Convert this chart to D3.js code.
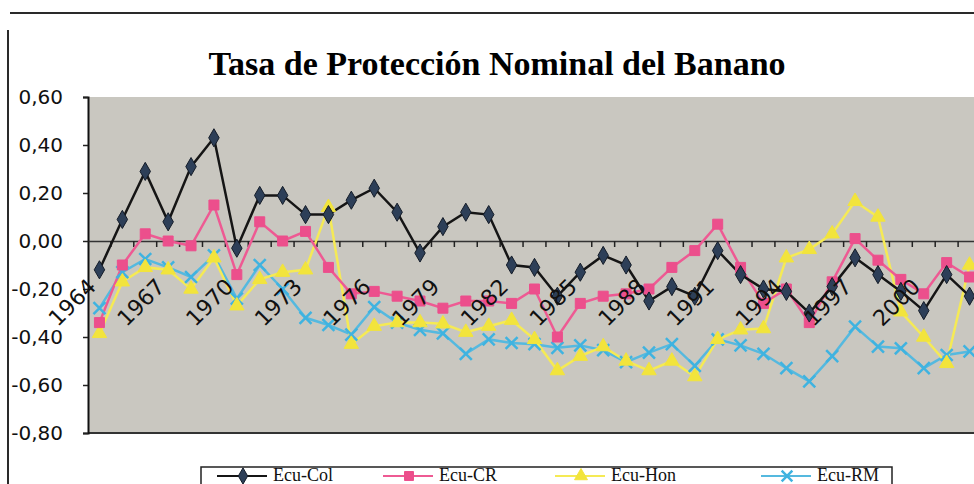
<!DOCTYPE html>
<html>
<head>
<meta charset="utf-8">
<script src="https://cdn.jsdelivr.net/npm/d3@7"></script>
<style>
	html, body { margin: 0; padding: 0; background: #ffffff; overflow: hidden; }
</style>
</head>
<body>
<div id="chart"></div>
<script>
// Categories (years) and the four series
const years = [1964, 1965, 1966, 1967, 1968, 1969, 1970, 1971, 1972, 1973,
	1974, 1975, 1976, 1977, 1978, 1979, 1980, 1981, 1982, 1983,
	1984, 1985, 1986, 1987, 1988, 1989, 1990, 1991, 1992, 1993,
	1994, 1995, 1996, 1997, 1998, 1999, 2000, 2001, 2002];

const ecuCol = [-0.12, 0.09, 0.29, 0.08, 0.31, 0.43, -0.03, 0.19, 0.19, 0.11,
	0.11, 0.17, 0.22, 0.12, -0.05, 0.06, 0.12, 0.11, -0.10, -0.11,
	-0.23, -0.13, -0.06, -0.10, -0.25, -0.19, -0.23, -0.04, -0.14, -0.20,
	-0.21, -0.30, -0.19, -0.07, -0.14, -0.21, -0.29, -0.14, -0.23];

const ecuCR = [-0.34, -0.10, 0.03, 0.00, -0.02, 0.15, -0.14, 0.08, 0.00, 0.04,
	-0.11, -0.22, -0.21, -0.23, -0.25, -0.28, -0.25, -0.25, -0.26, -0.20,
	-0.40, -0.26, -0.23, -0.22, -0.20, -0.11, -0.04, 0.07, -0.11, -0.26,
	-0.20, -0.34, -0.17, 0.01, -0.08, -0.16, -0.22, -0.09, -0.15];

const ecuHon = [-0.385, -0.17, -0.11, -0.12, -0.20, -0.07, -0.27, -0.16, -0.13, -0.12,
	0.14, -0.43, -0.355, -0.34, -0.34, -0.345, -0.38, -0.355, -0.33, -0.41,
	-0.54, -0.48, -0.44, -0.50, -0.54, -0.50, -0.565, -0.41, -0.37, -0.365,
	-0.07, -0.035, 0.03, 0.165, 0.10, -0.295, -0.40, -0.51, -0.10];

const ecuRM = [-0.28, -0.13, -0.075, -0.11, -0.15, -0.06, -0.24, -0.10, -0.20, -0.32,
	-0.35, -0.39, -0.275, -0.34, -0.37, -0.385, -0.47, -0.41, -0.425, -0.43,
	-0.445, -0.435, -0.455, -0.505, -0.465, -0.43, -0.52, -0.41, -0.435, -0.47,
	-0.53, -0.585, -0.48, -0.357, -0.44, -0.447, -0.53, -0.475, -0.46];

const yTicks = [0.6, 0.4, 0.2, 0, -0.2, -0.4, -0.6, -0.8];
const labelYears = [1964, 1967, 1970, 1973, 1976, 1979, 1982, 1985, 1988, 1991, 1994, 1997, 2000];

const seriesNames = ["Ecu-Col", "Ecu-CR", "Ecu-Hon", "Ecu-RM"];

function drawChart() {
	const width = 974, height = 484;
	const plot = { left: 88, right: 981, top: 97, bottom: 433 };

	const svg = d3.select("#chart")
		.append("svg")
		.attr("width", width)
		.attr("height", height)
		.style("display", "block");

	// Scan border lines of the original figure
	svg.append("line")
		.attr("x1", 10).attr("x2", width).attr("y1", 13).attr("y2", 13)
		.attr("stroke", "#2a2a2a").attr("stroke-width", 2);
	svg.append("line")
		.attr("x1", 8).attr("x2", 8).attr("y1", 30).attr("y2", height)
		.attr("stroke", "#2a2a2a").attr("stroke-width", 2);

	// Title
	svg.append("text")
		.attr("x", 497)
		.attr("y", 75)
		.attr("text-anchor", "middle")
		.style("font-family", "'Liberation Serif', 'Times New Roman', serif")
		.style("font-weight", "bold")
		.style("font-size", "34px")
		.text("Tasa de Protección Nominal del Banano");

	// Scales
	const x = d3.scaleBand()
		.domain(years)
		.range([plot.left, plot.right]);
	const cx = (d) => x(d) + x.bandwidth() / 2;

	const y = d3.scaleLinear()
		.domain([-0.8, 0.6])
		.range([plot.bottom, plot.top]);

	// Plot area
	svg.append("rect")
		.attr("x", plot.left)
		.attr("y", plot.top)
		.attr("width", plot.right - plot.left)
		.attr("height", plot.bottom - plot.top)
		.attr("fill", "#c9c7c0");
	svg.append("line")
		.attr("x1", plot.left).attr("x2", width)
		.attr("y1", plot.bottom).attr("y2", plot.bottom)
		.attr("stroke", "#333").attr("stroke-width", 2);

	// Y axis
	const yAxis = svg.append("g")
		.attr("transform", `translate(${plot.left},0)`)
		.call(d3.axisLeft(y)
			.tickValues(yTicks)
			.tickSize(5)
			.tickPadding(20)
			.tickFormat((d) => d3.format(".2f")(d).replace(".", ",").replace("−", "-")));
	yAxis.select(".domain").attr("stroke", "#111").attr("stroke-width", 2);
	yAxis.selectAll(".tick line").attr("stroke", "#222").attr("stroke-width", 1.5);
	yAxis.selectAll("text")
		.attr("fill", "#111")
		.style("font-family", "'DejaVu Sans', sans-serif")
		.style("font-size", "20px");

	// Category axis across the zero line
	const xAxis = svg.append("g")
		.attr("transform", `translate(0,${y(0)})`)
		.call(d3.axisBottom(x).tickSize(0).tickFormat(""));
	xAxis.select(".domain").attr("stroke", "#333").attr("stroke-width", 1.5);
	xAxis.selectAll(".tick").remove();

	// Tick marks between categories
	svg.append("g")
		.selectAll("line")
		.data(years.slice(1))
		.enter()
		.append("line")
		.attr("x1", (d) => x(d)).attr("x2", (d) => x(d))
		.attr("y1", y(0)).attr("y2", y(0) + 6)
		.attr("stroke", "#222").attr("stroke-width", 1.5);

	// Series
	const series = [
		{ name: seriesNames[0], values: ecuCol, line: "#151515", fill: "#2d3f58", stroke: "#141c28", symbol: d3.symbolDiamond, size: 95 },
		{ name: seriesNames[1], values: ecuCR, line: "#ee5a93", fill: "#ec4f8c", stroke: "#ec4f8c", symbol: d3.symbolSquare, size: 100 },
		{ name: seriesNames[2], values: ecuHon, line: "#f5ea55", fill: "#f2e43c", stroke: "#f2e43c", symbol: d3.symbolTriangle, size: 90 },
		{ name: seriesNames[3], values: ecuRM, line: "#55b9df", fill: "none", stroke: "#3fb3e0", symbol: d3.symbolX, size: 95 }
	];

	const line = d3.line()
		.x((d, i) => cx(years[i]))
		.y((d) => y(d));

	const gSeries = svg.append("g");
	series.slice().reverse().forEach((s) => {
		gSeries.append("path")
			.datum(s.values)
			.attr("fill", "none")
			.attr("stroke", s.line)
			.attr("stroke-width", 2.5)
			.attr("d", line);
	});
	series.slice().reverse().forEach((s) => {
		gSeries.selectAll(null)
			.data(s.values)
			.enter()
			.append("path")
			.attr("transform", (d, i) => `translate(${cx(years[i])},${y(d)})`)
			.attr("d", d3.symbol().type(s.symbol).size(s.size))
			.attr("fill", s.fill)
			.attr("stroke", s.stroke)
			.attr("stroke-width", s.fill === "none" ? 2.5 : 1);
	});

	// Rotated year labels
	svg.append("g")
		.selectAll("text")
		.data(labelYears)
		.enter()
		.append("text")
		.attr("transform", (d) => `translate(${cx(d) - 2},${y(0) + 47}) rotate(-45)`)
		.attr("text-anchor", "end")
		.attr("fill", "#111")
		.style("font-family", "'DejaVu Sans', sans-serif")
		.style("font-size", "22px")
		.text((d) => d);

	// Legend
	const legend = svg.append("g");
	legend.append("rect")
		.attr("x", 201).attr("y", 467)
		.attr("width", 691).attr("height", 40)
		.attr("fill", "#ffffff")
		.attr("stroke", "#222").attr("stroke-width", 1.5);

	const legendX = [243, 409, 581, 787];
	series.forEach((s, i) => {
		const lx = legendX[i];
		legend.append("line")
			.attr("x1", lx - 26).attr("x2", lx + 24)
			.attr("y1", 476).attr("y2", 476)
			.attr("stroke", s.line).attr("stroke-width", 2);
		legend.append("path")
			.attr("transform", `translate(${lx},476)`)
			.attr("d", d3.symbol().type(s.symbol).size(s.size * 0.8))
			.attr("fill", s.fill)
			.attr("stroke", s.stroke)
			.attr("stroke-width", s.fill === "none" ? 2.5 : 1);
		legend.append("text")
			.attr("x", lx + 30)
			.attr("y", 481)
			.attr("fill", "#111")
			.style("font-family", "'Liberation Serif', 'Times New Roman', serif")
			.style("font-size", "18px")
			.text(s.name);
	});
}

document.addEventListener("DOMContentLoaded", drawChart);
</script>
</body>
</html>
